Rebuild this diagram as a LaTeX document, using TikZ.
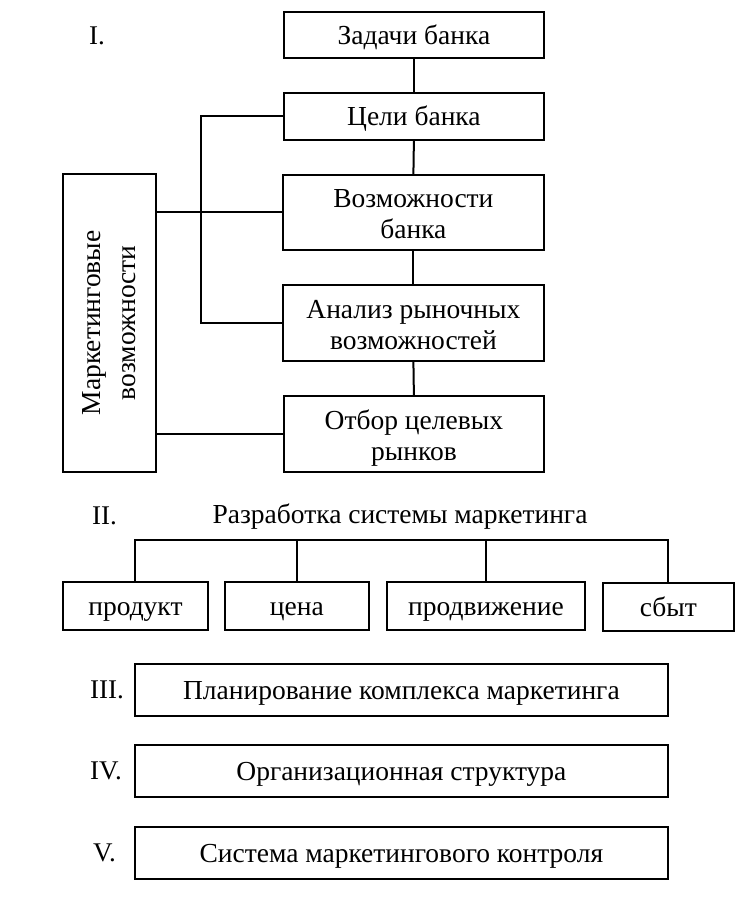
\documentclass[tikz,border=0pt]{standalone}
\usepackage{fontspec}
\setmainfont{Liberation Serif}
\begin{document}
\begin{tikzpicture}[x=1pt,y=-1pt,
  box/.style={draw=black, line width=1.8pt, inner sep=0pt, anchor=north west, align=center,
    font=\fontsize{27.5}{31}\selectfont},
  onebox/.style={box, text height=21pt, text depth=2pt},
  twobox/.style={box, text height=53pt, text depth=0pt},
  lbl/.style={anchor=base west, inner sep=0pt, font=\fontsize{27}{29}\selectfont},
  conn/.style={line width=2pt}]
\useasboundingbox (0,0) rectangle (753,908);
\fill[white] (0,0) rectangle (753,908);
% Section I
\node[onebox, minimum width=260pt, minimum height=46pt] (zad) at (283,11) {Задачи банка};
\node[onebox, minimum width=260pt, minimum height=47pt] (cel) at (283,92) {Цели банка};
\node[twobox, minimum width=261pt, minimum height=75pt] (voz) at (282,174) {Возможности\\банка};
\node[twobox, minimum width=261pt, minimum height=76pt] (anal) at (282,284) {Анализ рыночных\\возможностей};
\node[twobox, minimum width=260pt, minimum height=76pt] (otb) at (283,395) {Отбор целевых\\рынков};
\node[box, minimum width=93pt, minimum height=298pt] (mv) at (62,173) {};
\node[rotate=90, align=center, inner sep=0pt, font=\fontsize{27.5}{35}\selectfont] (mvt) at (mv.center) {Маркетинговые\\возможности};
\draw[conn] (zad.south) -- (cel.north);
\draw[conn] (cel.south) -- (voz.north);
\draw[conn] (voz.south) -- (anal.north);
\draw[conn] (anal.south) -- (otb.north);
\draw[conn] (cel.west) -- ++(-82,0) |- (anal.west);
\draw[conn] (voz.west) -- (voz.west -| mv.east);
\draw[conn] (otb.west) -- (otb.west -| mv.east);
\node[lbl] (l1) at (89,44) {I.};
% Section II
\node[lbl] (l2) at (92,524) {II.};
\node[anchor=base, inner sep=0pt, font=\fontsize{27.5}{29}\selectfont] (title) at (400,523) {Разработка системы маркетинга};
\node[onebox, minimum width=145pt, minimum height=48pt] (prod) at (62,581) {продукт};
\node[onebox, minimum width=144pt, minimum height=48pt] (cena) at (224,581) {цена};
\node[onebox, minimum width=198pt, minimum height=48pt] (prodv) at (386,581) {продвижение};
\node[onebox, minimum width=131pt, minimum height=48pt] (sbyt) at (602,582) {сбыт};
\coordinate (bar) at (0,540);
\draw[conn] (prod.north) -- (prod.north |- bar) -- (sbyt.north |- bar) -- (sbyt.north);
\draw[conn] (cena.north) -- (cena.north |- bar);
\draw[conn] (prodv.north) -- (prodv.north |- bar);
% Sections III-V
\node[onebox, minimum width=533pt, minimum height=52pt] (plan) at (134,663) {Планирование комплекса маркетинга};
\node[lbl] (l3) at (90,698.5) {III.};
\node[onebox, minimum width=533pt, minimum height=52pt] (org) at (134,744) {Организационная структура};
\node[lbl] (l4) at (90,779.5) {IV.};
\node[onebox, minimum width=533pt, minimum height=52pt] (sys) at (134,826) {Система маркетингового контроля};
\node[lbl] (l5) at (93,861.5) {V.};
\end{tikzpicture}
\end{document}
